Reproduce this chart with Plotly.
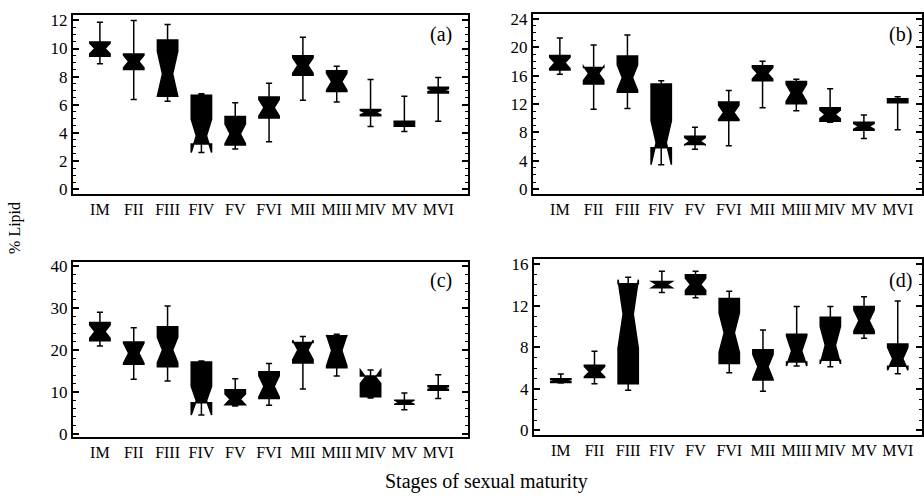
import plotly.graph_objects as go
from plotly.subplots import make_subplots

categories = ["IM", "FII", "FIII", "FIV", "FV", "FVI", "MII", "MIII", "MIV", "MV", "MVI"]

# Panel (a)
a_low = [8.92, 6.37, 6.25, 3.00, 2.85, 3.36, 6.32, 6.20, 4.45, 4.10, 4.82]
a_q1 = [9.45, 8.50, 6.60, 3.20, 3.13, 5.05, 8.10, 6.95, 5.21, 4.47, 6.83]
a_med = [10.00, 9.08, 8.20, 3.79, 3.93, 5.79, 8.80, 7.64, 5.44, 4.62, 7.04]
a_q3 = [10.47, 9.61, 10.60, 6.67, 5.16, 6.55, 9.49, 8.41, 5.67, 4.82, 7.25]
a_up = [11.86, 12.00, 11.70, 6.78, 6.14, 7.53, 10.81, 8.73, 7.80, 6.60, 7.94]
a_ns = [0.38, 0.45, 1.60, 1.19, 0.70, 0.58, 0.55, 0.60, 0.15, 0.05, 0.10]

# Panel (b)
b_low = [16.2, 11.26, 11.35, 5.38, 5.60, 6.11, 11.45, 11.03, 9.42, 7.12, 8.36]
b_q1 = [16.77, 14.80, 13.65, 5.83, 6.29, 9.66, 15.26, 12.04, 9.56, 8.28, 12.18]
b_med = [17.79, 16.30, 15.70, 6.55, 6.76, 10.80, 16.32, 13.56, 10.52, 8.83, 12.45]
b_q3 = [18.84, 17.14, 18.76, 14.80, 7.45, 12.28, 17.38, 15.17, 11.45, 9.42, 12.73]
b_up = [21.3, 20.3, 21.7, 15.26, 8.73, 13.88, 18.01, 15.49, 14.15, 10.43, 13.00]
b_ns = [0.8, 1.0, 1.8, 3.1, 0.5, 1.0, 0.8, 1.2, 0.6, 0.4, 0.1]

# Panel (c)
c_low = [20.96, 13.0, 12.6, 6.6, 6.6, 6.8, 10.67, 13.8, 8.5, 5.7, 8.4]
c_q1 = [22.2, 16.6, 15.98, 7.4, 6.9, 8.4, 16.9, 15.74, 8.8, 7.0, 10.36]
c_med = [24.4, 19.25, 20.0, 7.87, 8.2, 11.3, 20.0, 19.9, 13.6, 7.5, 10.9]
c_q3 = [26.6, 21.9, 25.57, 17.15, 10.5, 14.8, 21.8, 23.4, 13.8, 8.0, 11.45]
c_up = [29.0, 25.3, 30.55, 17.38, 13.1, 16.76, 23.2, 23.77, 15.2, 9.74, 14.1]
c_ns = [1.6, 2.4, 3.0, 3.43, 1.3, 2.5, 2.3, 3.7, 1.6, 0.5, 0.3]

# Panel (d)
d_low = [4.55, 4.49, 3.86, 13.27, 12.77, 5.55, 3.76, 6.34, 6.12, 8.88, 5.46]
d_q1 = [4.61, 5.08, 4.49, 13.74, 13.08, 6.43, 4.86, 6.59, 6.75, 9.32, 6.18]
d_med = [4.78, 5.65, 11.2, 14.04, 14.05, 9.4, 6.12, 7.65, 8.2, 10.57, 6.9]
d_q3 = [4.96, 6.27, 14.12, 14.34, 14.99, 12.7, 7.75, 9.25, 10.89, 11.92, 8.31]
d_up = [5.43, 7.62, 14.75, 15.31, 15.31, 13.4, 9.66, 11.92, 11.92, 12.86, 12.45]
d_ns = [0.1, 0.5, 3.3, 0.3, 0.6, 1.9, 1.2, 1.45, 1.8, 1.0, 1.1]

panel_labels = ["(a)", "(b)", "(c)", "(d)"]
x_title = "Stages of sexual maturity"
y_title = "% Lipid"

W, H = 924, 498
FONT = "Liberation Serif"

fig = make_subplots(rows=2, cols=2)

panels = [
    (1, 1, a_low, a_q1, a_med, a_q3, a_up, a_ns),
    (1, 2, b_low, b_q1, b_med, b_q3, b_up, b_ns),
    (2, 1, c_low, c_q1, c_med, c_q3, c_up, c_ns),
    (2, 2, d_low, d_q1, d_med, d_q3, d_up, d_ns),
]
for r, c, lo, q1, med, q3, up, ns in panels:
    fig.add_trace(go.Box(
        x=categories, q1=q1, median=med, q3=q3,
        lowerfence=lo, upperfence=up, notchspan=ns,
        notched=True, notchwidth=0.25, whiskerwidth=0.3,
        boxpoints=False, fillcolor="black",
        line=dict(color="black", width=1.5),
        showlegend=False, hoverinfo="skip",
    ), row=r, col=c)

def px_dom(x0, x1):
    return [x0 / W, min(x1 / W, 1.0)]

def py_dom(top, bottom):
    return [1 - bottom / H, 1 - top / H]

xdoms = [px_dom(73, 469), px_dom(534, 924), px_dom(73, 469), px_dom(535, 924)]
ydoms = [py_dom(10, 193), py_dom(9, 193), py_dom(263, 442), py_dom(260, 440)]
xranges = [[-0.8, 10.88], [-0.8, 10.72], [-0.8, 10.88], [-0.8, 10.72]]
yranges = [[-0.33, 12.4], [-0.65, 24.7], [-0.87, 41.0], [-0.47, 16.47]]
ydticks = [2, 4, 10, 4]
yminor = [0.5, 1, 2, 1]

for i in range(4):
    sx = "" if i == 0 else str(i + 1)
    fig.layout["xaxis" + sx].update(
        domain=xdoms[i], range=xranges[i], type="category",
        categoryorder="array", categoryarray=categories,
        tickmode="linear", dtick=1, tickangle=0,
        showline=True, mirror=True, linecolor="black", linewidth=2,
        ticks="", showgrid=False, zeroline=False,
        tickfont=dict(family=FONT, size=16, color="black"),
    )
    fig.layout["yaxis" + sx].update(
        domain=ydoms[i], range=yranges[i], dtick=ydticks[i], tick0=0,
        showline=True, mirror="ticks", linecolor="black", linewidth=2,
        ticks="inside", ticklen=6, tickwidth=1.5, tickcolor="black",
        minor=dict(ticks="inside", ticklen=3, dtick=yminor[i], tick0=0,
                   tickcolor="black", tickwidth=1),
        showgrid=False, zeroline=False,
        tickfont=dict(family=FONT, size=17, color="black"),
    )

label_pos = [(455, 30), (916, 30), (455, 282), (916, 282)]
annotations = []
for (lx, ly), t in zip(label_pos, panel_labels):
    annotations.append(dict(
        text=t, x=lx / W, y=1 - ly / H, xref="paper", yref="paper",
        xanchor="right", yanchor="middle", showarrow=False,
        font=dict(family=FONT, size=20, color="black"),
    ))
annotations.append(dict(
    text=x_title, x=488 / W, y=1 - 487 / H, xref="paper", yref="paper",
    xanchor="center", yanchor="middle", showarrow=False,
    font=dict(family=FONT, size=20, color="black"),
))
annotations.append(dict(
    text=y_title, x=15 / W, y=1 - 228 / H, xref="paper", yref="paper",
    xanchor="center", yanchor="middle", showarrow=False, textangle=-90,
    font=dict(family=FONT, size=16, color="black"),
))

fig.update_layout(
    width=W, height=H, margin=dict(l=0, r=0, t=0, b=0),
    paper_bgcolor="white", plot_bgcolor="white",
    boxgap=0.14, annotations=annotations,
    font=dict(family=FONT, color="black"),
)

fig.write_html("out.html")
